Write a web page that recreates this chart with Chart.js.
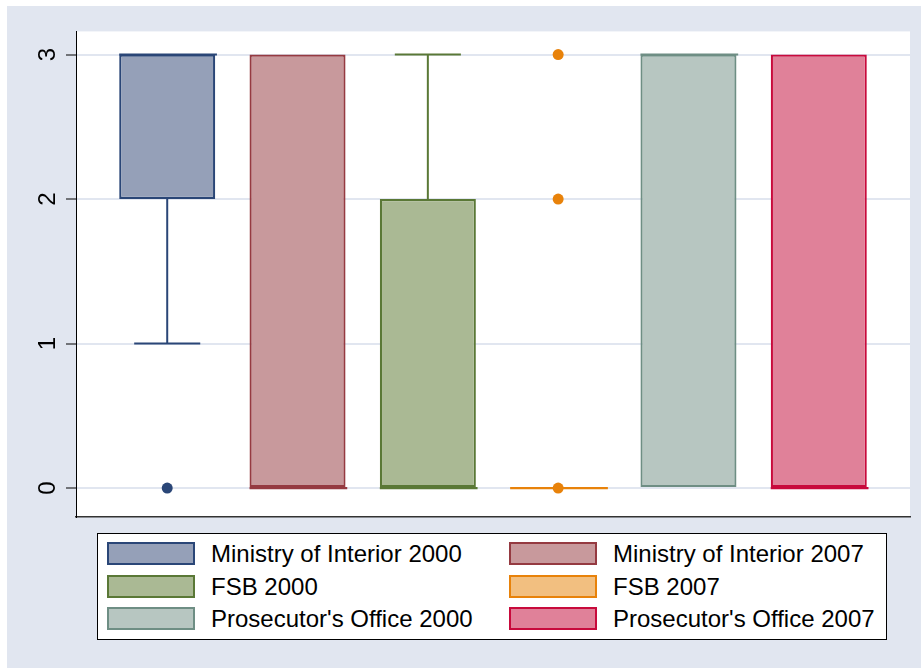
<!DOCTYPE html>
<html lang="en">
<head>
  <meta charset="UTF-8" />
  <title>Box plot - agencies 2000 / 2007</title>
  <style>
    * {
      margin: 0;
      padding: 0;
      box-sizing: border-box;
    }

    body {
      width: 921px;
      height: 668px;
      background: #fff;
      position: relative;
      overflow: hidden;
      font-family: "Liberation Sans", Arial, sans-serif;
    }

    /* graph region */
    .graph {
      position: absolute;
      left: 7px;
      top: 6px;
      width: 914px;
      height: 662px;
      background: #e1e6f0;
    }

    .graph canvas {
      position: absolute;
      left: 0;
      top: 0;
    }

    /* legend box */
    .legend {
      position: absolute;
      left: 90px;
      top: 527px;
      width: 790px;
      height: 107px;
      background: #fff;
      border: 1px solid #000;
      display: grid;
      grid-template-columns: 402px 380px;
      grid-auto-rows: 32.5px;
      padding: 8px 0 0 9px;
    }

    .legend-item {
      display: flex;
      align-items: flex-start;
    }

    .legend-item .swatch {
      width: 88px;
      height: 23px;
      border: 2px solid;
      flex: none;
    }

    .legend-item span {
      margin-left: 16px;
      font-size: 24px;
      line-height: 23px;
      color: #000;
      white-space: nowrap;
    }
  </style>
</head>
<body>
  <div class="graph">
    <canvas id="boxChart" width="914" height="662"></canvas>
    <div class="legend" id="legend"></div>
  </div>

  <script src="https://cdn.jsdelivr.net/npm/chart.js"></script>

  <script>
    // ================================
    // Data
    // ================================
    const groups = [
      'Ministry of Interior 2000', 'Ministry of Interior 2007',
      'FSB 2000', 'FSB 2007',
      "Prosecutor's Office 2000", "Prosecutor's Office 2007"
    ];
    const positions = [1, 2, 3, 4, 5, 6];
    const q1 = [2, 0, 0, 0, 0, 0];
    const median = [3, 0, 0, 0, 3, 0];
    const q3 = [3, 3, 2, 0, 3, 3];
    const lowerAdj = [1, 0, 0, 0, 0, 0];
    const upperAdj = [3, 3, 3, 0, 3, 3];
    const outlierGroup = [0, 3, 3, 3];
    const outlierValue = [0, 0, 2, 3];
    const yTicks = [0, 1, 2, 3];

    const lineColors = ['#2a4677', '#953a41', '#5a7836', '#e8820a', '#6e8e84', '#c80a3c'];
    const fillColors = ['#95a0b8', '#c8999c', '#aab994', '#f2bf80', '#b7c6c1', '#e08199'];

    const BOX_W = 0.737;   // box width, x units
    const CAP_W = 0.507;   // whisker cap width, x units
    const MED_W = 0.75;

    // ================================
    // Datasets
    // ================================
    const datasets = [];

    datasets.push({
      type: 'bar',
      label: 'boxes',
      order: 10,
      data: positions.map((p, i) => ({ x: p, y: [q1[i], q3[i]] })),
      backgroundColor: fillColors,
      borderColor: lineColors,
      borderWidth: 2.2,
      borderSkipped: false,
      grouped: false,
      barPercentage: BOX_W,
      categoryPercentage: 1
    });

    function segment(points, color, order) {
      return {
        type: 'line',
        order: order,
        data: points,
        borderColor: color,
        borderWidth: 2,
        pointRadius: 0,
        fill: false,
        tension: 0
      };
    }

    positions.forEach((p, i) => {
      const c = lineColors[i];
      // whiskers (only where the adjacent value lies outside the box)
      if (lowerAdj[i] !== q1[i]) {
        datasets.push(segment([{ x: p, y: q1[i] }, { x: p, y: lowerAdj[i] }], c, 5));
        datasets.push(segment([{ x: p - CAP_W / 2, y: lowerAdj[i] }, { x: p + CAP_W / 2, y: lowerAdj[i] }], c, 5));
      }
      if (upperAdj[i] !== q3[i]) {
        datasets.push(segment([{ x: p, y: q3[i] }, { x: p, y: upperAdj[i] }], c, 5));
        datasets.push(segment([{ x: p - CAP_W / 2, y: upperAdj[i] }, { x: p + CAP_W / 2, y: upperAdj[i] }], c, 5));
      }
      // median
      const med = segment([{ x: p - BOX_W / 2, y: median[i] }, { x: p + MED_W - BOX_W / 2, y: median[i] }], c, 2);
      med.borderWidth = 2.2;
      datasets.push(med);
    });

    datasets.push({
      type: 'scatter',
      order: 1,
      data: outlierGroup.map((g, k) => ({ x: positions[g], y: outlierValue[k] })),
      pointBackgroundColor: outlierGroup.map(g => lineColors[g]),
      pointBorderWidth: 0,
      pointRadius: 5.5
    });

    // white plot region
    const plotBackground = {
      id: 'plotBackground',
      beforeDraw(chart) {
        const { ctx, chartArea } = chart;
        ctx.save();
        ctx.fillStyle = '#fff';
        ctx.fillRect(chartArea.left, chartArea.top, chartArea.right - chartArea.left, chartArea.bottom - chartArea.top);
        ctx.restore();
      }
    };

    const ctx = document.getElementById('boxChart').getContext('2d');
    const boxChart = new Chart(ctx, {
      data: { datasets: datasets },
      options: {
        responsive: false,
        animation: false,
        devicePixelRatio: 1,
        layout: { padding: { left: 0, top: 24, right: 11, bottom: 151 } },
        plugins: {
          legend: { display: false },
          tooltip: { enabled: false }
        },
        scales: {
          x: {
            type: 'linear',
            min: 0.3,
            max: 6.7,
            offset: false,
            afterBuildTicks: (scale) => { scale.ticks = positions.map(v => ({ value: v })); },
            afterFit: (scale) => { scale.height = 0; },
            ticks: { display: false },
            grid: { display: false },
            border: { display: true, color: '#333', width: 1.5 }
          },
          y: {
            type: 'linear',
            min: -0.2,
            max: 3.16,
            afterBuildTicks: (scale) => { scale.ticks = yTicks.map(v => ({ value: v })); },
            afterFit: (scale) => { scale.width = 69; },
            ticks: {
              minRotation: 90,
              maxRotation: 90,
              crossAlign: 'center',
              padding: 11,
              color: '#000',
              font: { family: '"Liberation Sans", Arial, sans-serif', size: 24 }
            },
            grid: {
              color: '#e1e6f0',
              lineWidth: 2,
              drawTicks: true,
              tickLength: 10,
              tickColor: '#000',
              tickWidth: 1
            },
            border: { display: true, color: '#000', width: 1 }
          }
        }
      },
      plugins: [plotBackground]
    });

    // ================================
    // Legend (2 columns, row-wise)
    // ================================
    const legend = document.getElementById('legend');
    groups.forEach((name, i) => {
      const item = document.createElement('div');
      item.className = 'legend-item';
      item.innerHTML = '<div class="swatch"></div><span></span>';
      item.querySelector('.swatch').style.background = fillColors[i];
      item.querySelector('.swatch').style.borderColor = lineColors[i];
      item.querySelector('span').textContent = name;
      legend.appendChild(item);
    });
  </script>
</body>
</html>
